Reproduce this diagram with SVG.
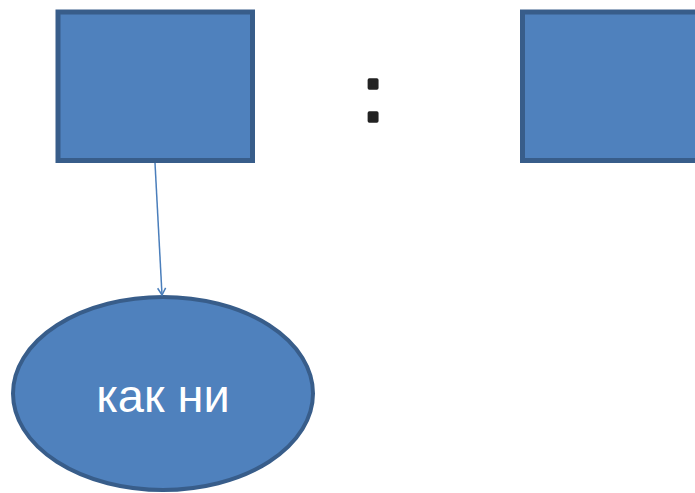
<svg xmlns="http://www.w3.org/2000/svg" width="695" height="493" viewBox="0 0 695 493">
<style>
.box{fill:#4F81BD;stroke:#385D8A;stroke-width:5;}
.ell{fill:#4F81BD;stroke:#385D8A;stroke-width:4;}
.lbl{font-family:"Liberation Sans",Arial,sans-serif;font-size:47px;fill:#FFFFFF;text-anchor:middle;}
.colon{font-family:"Liberation Sans",Arial,sans-serif;font-size:78px;fill:#222222;stroke:#222222;stroke-width:3.5;stroke-linejoin:round;text-anchor:middle;}
.conn{stroke:#4A7EBB;stroke-width:1.5;fill:none;}
</style>
<defs>
<marker id="arr" markerWidth="10" markerHeight="10" refX="8" refY="5" orient="auto" markerUnits="userSpaceOnUse">
<path d="M1,1 L8,5 L1,9" fill="none" stroke="#4A7EBB" stroke-width="1.5"/>
</marker>
</defs>
<g id="box1"><rect class="box" x="58" y="12" width="194.5" height="148.5"/></g>
<g id="colon"><text class="colon" x="373" y="121">:</text></g>
<g id="box2"><rect class="box" x="522.5" y="12" width="200" height="148.5"/></g>
<g id="ellipse1"><ellipse class="ell" cx="163" cy="393.5" rx="150" ry="96.5"/><text class="lbl" x="163" y="412">как ни</text></g>
<g id="connectors"><line class="conn" x1="155" y1="163" x2="162" y2="295" marker-end="url(#arr)"/></g>
</svg>
